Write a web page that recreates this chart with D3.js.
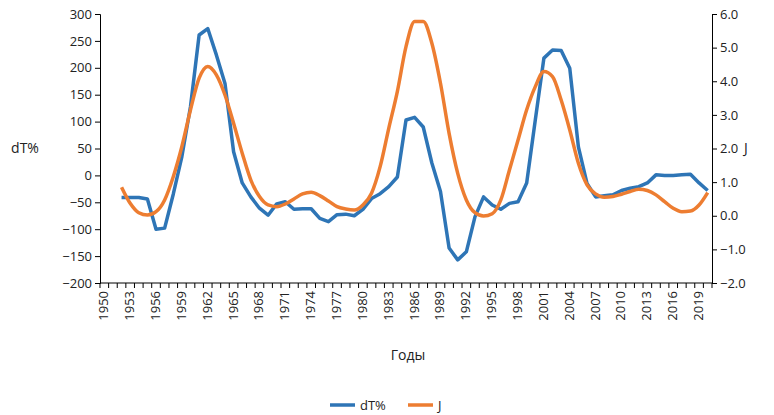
<!DOCTYPE html><html><head><meta charset="utf-8">
<script src="https://cdn.jsdelivr.net/npm/d3@7"></script>
<style>body{margin:0;background:#fff}text{font-family:"Open Sans",sans-serif;fill:#222}</style></head><body>
<svg id="c" width="774" height="415"></svg>
<script>
const years = d3.range(1950, 2021);
const dataYears = d3.range(1952, 2021);
const dT = [-41,-41,-41,-44,-100,-98,-35,35,128,261,273,224,171,44,-14,-40,-61,-74,-53,-49,-63,-62,-62,-80,-86,-73,-72,-75,-63,-43,-34,-21,-3,103,108,90,23,-30,-135,-157,-142,-77,-40,-55,-63,-52,-49,-14,103,218,233,232,199,53,-15,-40,-38,-36,-28,-24,-21,-14,1,0,0,1,2,-14,-28];
const J = [0.85,0.37,0.09,0.02,0.12,0.47,1.16,2.06,3.15,4.09,4.44,4.19,3.59,2.75,1.86,1.06,0.57,0.32,0.27,0.35,0.5,0.65,0.7,0.6,0.44,0.27,0.2,0.17,0.32,0.67,1.46,2.6,3.7,5.03,5.78,5.78,5.13,3.94,2.45,1.26,0.47,0.09,-0.01,0.06,0.47,1.36,2.25,3.15,3.84,4.29,4.14,3.44,2.55,1.56,0.92,0.65,0.55,0.57,0.64,0.72,0.79,0.75,0.62,0.42,0.22,0.12,0.14,0.32,0.69];
const leftTicks = d3.range(-200, 301, 50);
const rightTicks = d3.range(-2, 6.01, 1);
const xLabels = d3.range(1950, 2021, 3);

const svg = d3.select("#c");
const L=100,R=712,T=14,B=283;
const x = d3.scaleBand().domain(years).range([L,R]);
const yL = d3.scaleLinear().domain([-200,300]).range([B,T]);
const yR = d3.scaleLinear().domain([-2,6]).range([B,T]);

const gl = svg.append("g").attr("transform",`translate(${L},0)`)
  .call(d3.axisLeft(yL).tickValues(leftTicks).tickSize(5).tickFormat(d3.format("d")));
const gr = svg.append("g").attr("transform",`translate(${R},0)`)
  .call(d3.axisRight(yR).tickValues(rightTicks).tickSize(5).tickFormat(d3.format(".1f")));
const gx = svg.append("g").attr("transform",`translate(0,${B})`);
gx.append("line").attr("x1",L).attr("x2",R).attr("stroke","#000");
gx.selectAll("line.t").data(years.concat([2021])).join("line")
  .attr("x1",d=>d===2021?R:x(d)).attr("x2",d=>d===2021?R:x(d)).attr("y1",0).attr("y2",5).attr("stroke","#000");
gx.selectAll("text").data(xLabels).join("text")
  .attr("transform",d=>`translate(${x(d)+x.bandwidth()/2+4},8) rotate(-90)`)
  .attr("text-anchor","end").attr("font-size",13).text(d=>d);
[gl,gr].forEach(g=>{g.selectAll("text").attr("font-size",13);g.select(".domain").attr("stroke","#000");g.selectAll(".tick line").attr("stroke","#000");});

const cx = d=>x(d)+x.bandwidth()/2;
svg.append("path").datum(dataYears.map((d,i)=>[d,dT[i]]))
  .attr("d",d3.line().x(d=>cx(d[0])).y(d=>yL(d[1])))
  .attr("fill","none").attr("stroke","#2e75b6").attr("stroke-width",3.5).attr("stroke-linejoin","round");
svg.append("path").datum(dataYears.map((d,i)=>[d,J[i]]))
  .attr("d",d3.line().curve(d3.curveMonotoneX).x(d=>cx(d[0])).y(d=>yR(d[1])))
  .attr("fill","none").attr("stroke","#ed7d31").attr("stroke-width",3.5);

svg.append("text").attr("x",25).attr("y",153).attr("text-anchor","middle").attr("font-size",14).text("dT%");
svg.append("text").attr("x",746).attr("y",153).attr("text-anchor","middle").attr("font-size",14).text("J");
svg.append("text").attr("x",408).attr("y",360).attr("text-anchor","middle").attr("font-size",14).text("Годы");
const lg=[["dT%","#2e75b6",330],["J","#ed7d31",408]];
lg.forEach(([t,c,px])=>{
  svg.append("line").attr("x1",px).attr("x2",px+25).attr("y1",405).attr("y2",405).attr("stroke",c).attr("stroke-width",3.5);
  svg.append("text").attr("x",px+30).attr("y",410).attr("font-size",13).text(t);
});
</script></body></html>
